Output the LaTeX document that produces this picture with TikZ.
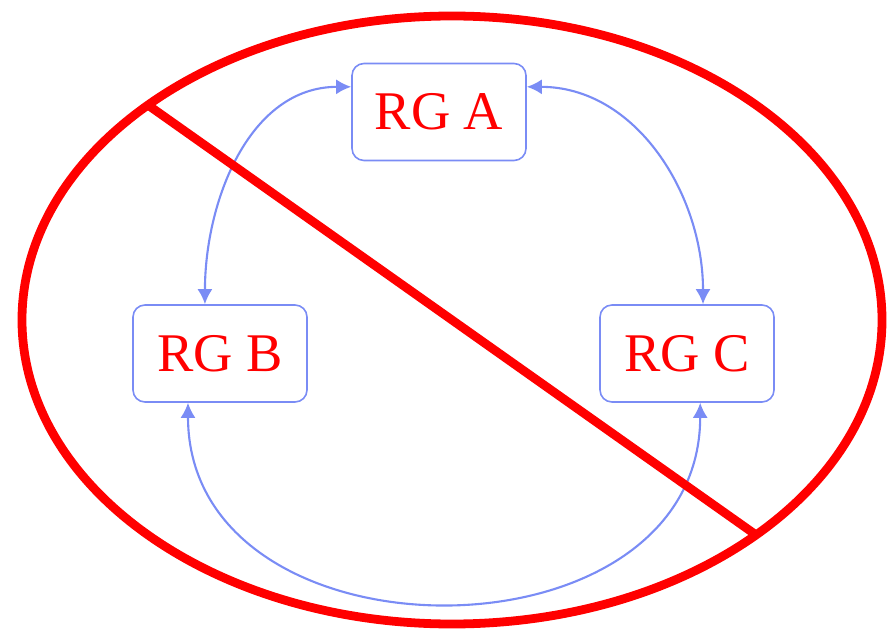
\documentclass[tikz,border=0pt]{standalone}
\usepackage{fontspec}
\setmainfont{Liberation Serif}
\usetikzlibrary{arrows.meta}
\definecolor{linkblue}{RGB}{122,140,245}
\tikzset{
  rgbox/.style={draw=linkblue, line width=0.9pt, rounded corners=0.24cm,
    minimum width=3.48cm, minimum height=1.94cm, text=red,
    font=\fontsize{31}{36}\selectfont},
  rglink/.style={draw=linkblue, line width=1.2pt,
    {Latex[length=3mm,width=3mm]}-{Latex[length=3mm,width=3mm]}},
  nosign/.style={draw=red, line width=5pt}
}

\begin{document}
\begin{tikzpicture}
\useasboundingbox (0,0) rectangle (17.76,-12.68);
\node[rgbox] (A) at (8.78,-2.24) {RG A};
\node[rgbox] (B) at (4.40,-7.07) {RG B};
\node[rgbox] (C) at (13.74,-7.07) {RG C};
\draw[rglink] (A.164) to[out=180,in=90] (B.107);
\draw[rglink] (A.16) to[out=0,in=90] (C.72);
\draw[rglink] (B.237) to[out=270,in=270,looseness=1.33] (C.285);
% crossed-out ring
\coordinate (O) at (9.04,-6.4);
\coordinate (E1) at (2.959,-2.101);
\coordinate (E2) at (15.121,-10.699);
\draw[nosign] (O) ellipse (8.6cm and 6.08cm);
\draw[nosign] (E1) -- (E2);
\end{tikzpicture}
\end{document}
